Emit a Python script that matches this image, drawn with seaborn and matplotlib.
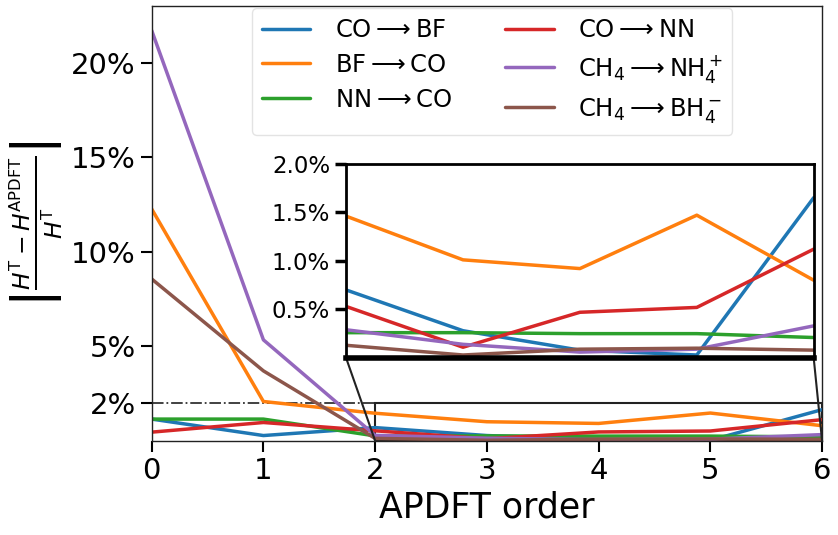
import matplotlib
matplotlib.use("Agg")
import matplotlib.pyplot as plt
import numpy as np
import pandas as pd
import seaborn as sns
from matplotlib.ticker import PercentFormatter, FormatStrFormatter
from mpl_toolkits.axes_grid1.inset_locator import mark_inset

# APDFT order on the x axis
orders = [0, 1, 2, 3, 4, 5, 6]

# relative error in percent
co_bf = [1.15, 0.28, 0.70, 0.28, 0.08, 0.03, 1.65]
bf_co = [12.26, 2.08, 1.46, 1.01, 0.92, 1.47, 0.80]
nn_co = [1.15, 1.15, 0.26, 0.26, 0.25, 0.25, 0.21]
co_nn = [0.46, 0.97, 0.53, 0.11, 0.47, 0.52, 1.12]
ch4_nh4 = [21.7, 5.34, 0.29, 0.14, 0.06, 0.09, 0.33]
ch4_bh4 = [8.56, 3.70, 0.13, 0.03, 0.09, 0.10, 0.08]

labels = [r"CO$\longrightarrow$BF",
          r"BF$\longrightarrow$CO",
          r"NN$\longrightarrow$CO",
          r"CO$\longrightarrow$NN",
          r"CH$_4$$\longrightarrow$NH$_4^+$",
          r"CH$_4$$\longrightarrow$BH$_4^-$"]
series = [co_bf, bf_co, nn_co, co_nn, ch4_nh4, ch4_bh4]

rows = []
for lab, vals in zip(labels, series):
    for o, v in zip(orders, vals):
        rows.append({'order': o, 'error': v, 'pair': lab})
data = pd.DataFrame(rows)

sns.set_style("ticks")
plt.rcParams['mathtext.fontset'] = 'dejavusans'
for key in ['text.color', 'axes.labelcolor', 'xtick.color', 'ytick.color']:
    plt.rcParams[key] = 'black'

fig = plt.figure(figsize=(8.38, 5.35), dpi=100)
ax = fig.add_axes([0.181, 0.176, 0.800, 0.813])
palette = sns.color_palette("tab10", 6)

sns.lineplot(data=data, x='order', y='error', hue='pair', hue_order=labels,
             palette=palette, linewidth=2.5, ax=ax, legend=True)
ax.axhline(2, color='#333333', linestyle='-.', linewidth=1.3, zorder=0)

ax.set_xlim(0, 6)
ax.set_ylim(0, 23)
ax.set_yticks([2, 5, 10, 15, 20])
ax.yaxis.set_major_formatter(PercentFormatter(decimals=0))
ax.set_xticks(orders)
ax.tick_params(labelsize=21, length=8, width=1.5)
for s in ax.spines.values():
    s.set_linewidth(1.0)
    s.set_color('#222222')
ax.set_xlabel("APDFT order", fontsize=25)
ax.set_ylabel(r"$\left|\frac{H^\mathrm{T} - H^\mathrm{APDFT}}{H^\mathrm{T}}\right|$", fontsize=24)

leg = ax.legend(loc='upper center', bbox_to_anchor=(0.508, 1.0), ncol=2, fontsize=17.5,
                handlelength=2.0, columnspacing=2.2, handletextpad=1.0, borderaxespad=0.1,
                labelspacing=0.45)
leg.get_frame().set_edgecolor('#dddddd')

# inset
axins = fig.add_axes([0.413, 0.331, 0.558, 0.363])
sns.lineplot(data=data, x='order', y='error', hue='pair', hue_order=labels,
             palette=palette, linewidth=2.5, ax=axins, legend=False)
axins.set_xlim(2, 6)
axins.set_ylim(0, 2)
axins.set_yticks([0.5, 1.0, 1.5, 2.0])
axins.yaxis.set_major_formatter(FormatStrFormatter('%.1f%%'))
axins.set_xticks([])
axins.set_xlabel('')
axins.set_ylabel('')
axins.tick_params(labelsize=16.5, length=8, width=2.5)
for s in axins.spines.values():
    s.set_linewidth(2.0)
    s.set_color('black')
axins.spines['bottom'].set_linewidth(4)

mark_inset(ax, axins, loc1=3, loc2=4, fc='none', ec='#222222', lw=1.5)

fig.savefig('out.png', dpi=100)
